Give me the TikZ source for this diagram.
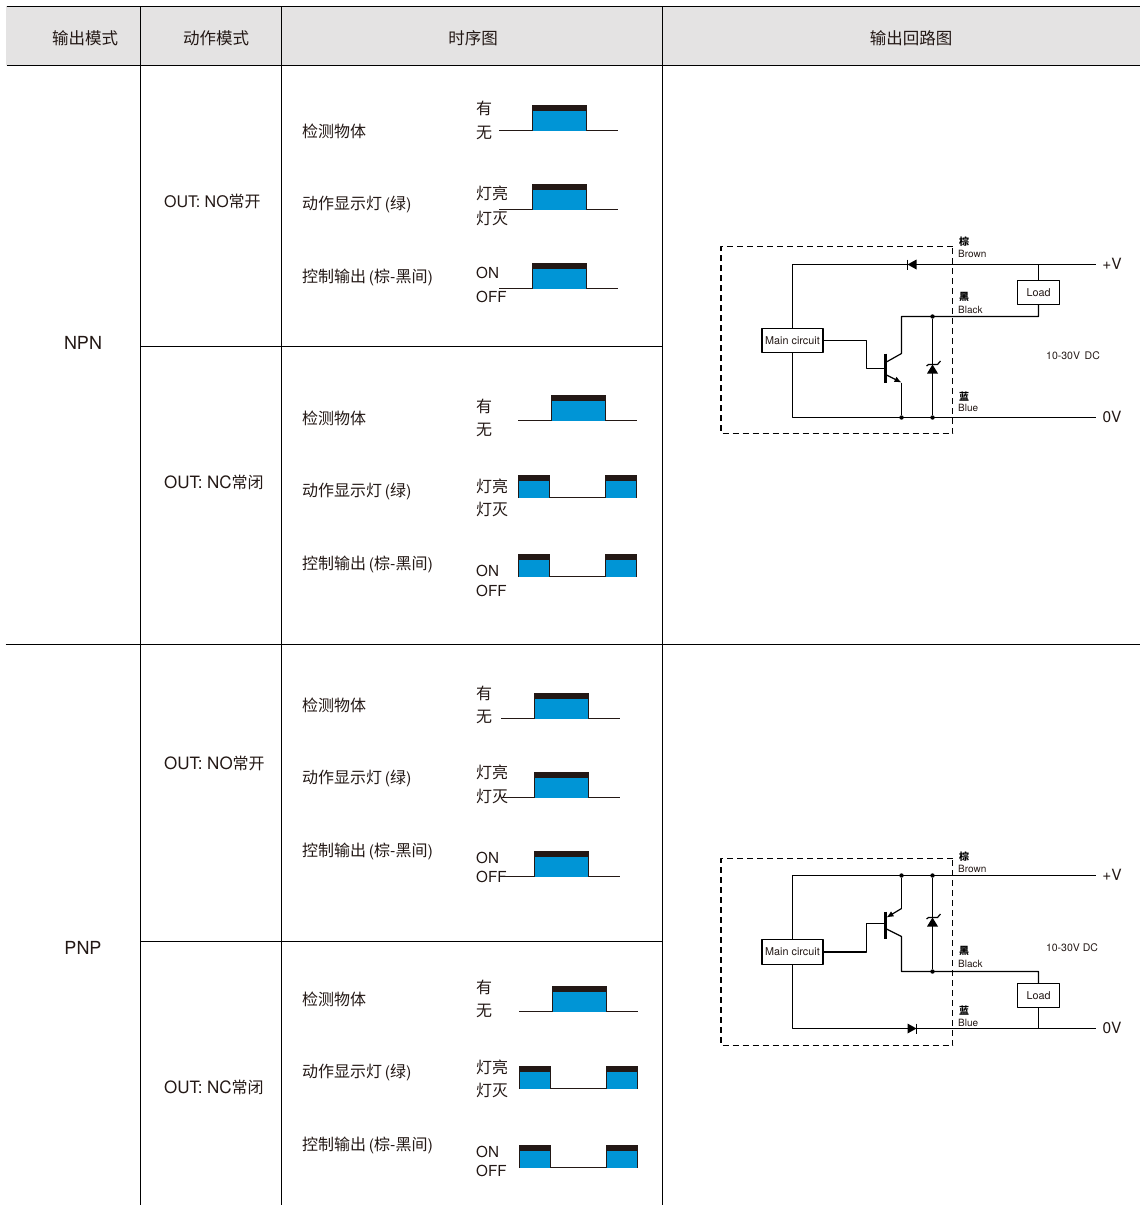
\documentclass[tikz,border=0pt]{standalone}
\usepackage{fontspec}
\setmainfont{TeX Gyre Heros}
\newfontfamily\cjk{Noto Sans CJK SC}
\usetikzlibrary{arrows.meta}
\definecolor{headgray}{HTML}{E4E3E3}
\definecolor{pulseblue}{HTML}{0095D6}
\definecolor{inkblack}{HTML}{231815}
\newcommand{\zh}[1]{{\cjk #1}}
\newcommand{\wide}[1]{{\fontsize{17}{18}\selectfont #1}}
% one pulse: left, right, base, top
\newcommand{\pulsebox}[4]{
	\fill[pulseblue] (#1,#4) rectangle (#2,#3);
	\fill[inkblack] (#1,#4) rectangle (#2,#4+6);
	\draw[pulseedge] (#1,#3)--(#1,#4)--(#2,#4)--(#2,#3);
}
\newcommand{\timingon}[3]{
	\draw[baseline] (#1,#2)--(#1+119,#2);
	\pulsebox{#1+33}{#1+87.5}{#2}{#3}
}
\newcommand{\timingoff}[3]{
	\pulsebox{#1}{#1+31.5}{#2}{#3}
	\pulsebox{#1+87}{#1+118.5}{#2}{#3}
	\draw[baseline] (#1+31.5,#2)--(#1+87,#2);
}
\tikzset{
	tablerule/.style={line width=1.2pt,black},
	baseline/.style={line width=1.1pt,inkblack},
	pulseedge/.style={line width=.5pt,inkblack},
	wire/.style={line width=1.2pt,black},
	dashbox/.style={line width=1.2pt,black,dash pattern=on 6pt off 4pt},
	cell/.style={inner sep=0pt,yshift=-.5pt,text=inkblack,font=\fontsize{16}{18}\selectfont},
	headcell/.style={cell,font=\fontsize{16.5}{18}\selectfont},
	rowlabel/.style={cell,anchor=west},
	switchlabel/.style={rowlabel,font=\fontsize{15.2}{18}\selectfont},
	modelabel/.style={cell,font=\fontsize{18}{20}\selectfont},
	circuitbox/.style={draw=black,line width=1.2pt,fill=white,inner sep=0pt,text=inkblack,font=\fontsize{10.8}{12}\selectfont},
	wirelabel/.style={inner sep=0pt,anchor=west,text=inkblack,font=\fontsize{10}{10}\selectfont},
	colorlabel/.style={inner sep=0pt,text=black,font=\cjk\bfseries\fontsize{10}{10}\selectfont},
	rail/.style={inner sep=0pt,text=inkblack,font=\fontsize{15.5}{18}\selectfont},
	dot/.style={circle,fill=black,inner sep=0pt,minimum size=4.4pt},
	bar/.style={line width=2.2pt,black},
}
\begin{document}
\begin{tikzpicture}[x=1pt,y=-1pt,line join=round]
	\useasboundingbox (0,0) rectangle (1142,1205);
	\fill[headgray] (6,6) rectangle (1139.5,65);
	%rules
	\begin{scope}[shift={(.5,.5)}]
	\draw[tablerule] (6,6)--(1139,6) (6,65)--(1139,65) (5,644)--(1139,644);
	\draw[tablerule] (140,346)--(662,346) (140,941)--(662,941);
	\foreach \x in {140,281,662}
		\draw[tablerule] (\x,6)--(\x,1205);
	\end{scope}
	%head
	\node[headcell] (headoutput) at (85,38) {\zh{输出模式}};
	\node[headcell] (headaction) at (216,38) {\zh{动作模式}};
	\node[headcell] (headtiming) at (473,38) {\zh{时序图}};
	\node[headcell] (headcircuit) at (911,38) {\zh{输出回路图}};
	\node[modelabel] (npn) at (83,342) {NPN};
	\node[modelabel] (pnp) at (83,947) {PNP};
	\node[rowlabel] (modeA) at (164,201) {OUT: NO\zh{常开}};
	\node[rowlabel] (modeB) at (164,482) {\wide{OUT: NC}\zh{常闭}};
	\node[rowlabel] (modeC) at (164,763) {\wide{OUT: NO}\zh{常开}};
	\node[rowlabel] (modeD) at (164,1087) {\wide{OUT: NC}\zh{常闭}};
	%left column of timing
	\foreach \a/\b/\c in {131/204/277,418/491/564,705/778/851,999/1072/1145}{
		\node[rowlabel] (obj\a) at (302,\a) {\zh{检测物体}};
		\node[rowlabel] (lamp\a) at (302,\b) {\zh{动作显示灯}\,(\zh{绿})};
		\node[rowlabel] (ctrl\a) at (302,\c) {\zh{控制输出}\,(\zh{棕}-\zh{黑间})};
	}
	%state names
	\foreach \a/\b in {108/132,406/429,693/716,987/1010}{
		\node[rowlabel] (has\a) at (476,\a) {\zh{有}};
		\node[rowlabel] (none\a) at (476,\b) {\zh{无}};
	}
	\foreach \a/\b in {193/218,486/509,772/796,1067/1090}{
		\node[rowlabel] (lit\a) at (476,\a) {\zh{灯亮}};
		\node[rowlabel] (dark\a) at (476,\b) {\zh{灯灭}};
	}
	\foreach \a/\b in {272/296,570/590,857/876,1151/1170}{
		\node[switchlabel] (on\a) at (476,\a) {ON};
		\node[switchlabel] (off\a) at (476,\b) {OFF};
	}
	%pulses
	\timingon{499}{130.5}{105}
	\timingon{499}{209.5}{184}
	\timingon{499}{288.5}{263}
	\timingon{518}{420.5}{395}
	\timingoff{518}{497.5}{475}
	\timingoff{518}{576.5}{554}
	\timingon{501}{718.5}{693}
	\timingon{501}{797.5}{772}
	\timingon{501}{876.5}{851}
	\timingon{519}{1011.5}{986}
	\timingoff{519}{1088.5}{1066}
	\timingoff{519}{1167.5}{1145}
	\begin{scope}[shift={(.5,.5)}]
	%NPN circuit
	\draw[dashbox] (952,246)--(720.5,246)--(720.5,433)--(952,433)--cycle;
	\node[circuitbox,minimum width=61pt,minimum height=24pt] (mainA) at (792,340) {Main circuit};
	\node[circuitbox,minimum width=42pt,minimum height=24pt] (loadA) at (1038,292) {Load};
	\coordinate (vA) at (1095,264);
	\coordinate (gA) at (1095,417);
	\coordinate (vtapA) at (1038,264);
	\coordinate (collA) at (901,353);
	\coordinate (emitA) at (901,382);
	\node[dot] (zenerTopA) at (932,316) {};
	\node[dot] (zenerBotA) at (932,417) {};
	\node[dot] (emitBotA) at (901,417) {};
	\draw[wire] (vA)--(mainA.north |- vA)--(mainA.north);
	\draw[wire] (mainA.south)--(mainA.south |- gA)--(gA);
	\draw[wire] (vtapA)--(loadA.north);
	\draw[wire] (loadA.south)--(1038,316)--(901,316)--(collA)--(885,362);
	\draw[wire] (mainA.east)--(866,340)--(866,368)--(885,368);
	\draw[wire,-{Latex[length=7pt,width=6pt]}] (885,374)--(emitA);
	\draw[wire] (emitA)--(emitBotA);
	\draw[bar] (885,353)--(885,382);
	\draw[wire] (zenerTopA)--(zenerBotA);
	\fill[black] (932,364)--(937.5,373)--(926.5,373)--cycle;
	\draw[wire] (926,365.5)--(928,364)--(937,364)--(940,360.5);
	\fill[black] (907,264)--(916,259)--(916,269)--cycle;
	\draw[wire] (907,259)--(907,269);
	\node[rail] (plusA) at (1111.5,263.5) {+V};
	\node[rail] (zeroA) at (1111.5,416.5) {0V};
	\node[inner sep=0pt,text=inkblack,font=\fontsize{10.5}{12}\selectfont] (voltA) at (1072.5,355.5) {10-30V\, DC};
	\node[colorlabel] (cbrownA) at (963.5,241.5) {棕};
	\node[wirelabel] (brownA) at (957.5,253.5) {Brown};
	\node[colorlabel] (cblackA) at (963.5,296.5) {黑};
	\node[wirelabel] (blackA) at (957.5,309.5) {Black};
	\node[colorlabel] (cblueA) at (963.5,396.5) {蓝};
	\node[wirelabel] (blueA) at (957.5,407.5) {Blue};
	%PNP circuit
	\draw[dashbox] (952,858)--(720.5,858)--(720.5,1045)--(952,1045)--cycle;
	\node[circuitbox,minimum width=61pt,minimum height=25pt] (mainB) at (792,951.5) {Main circuit};
	\node[circuitbox,minimum width=42pt,minimum height=24pt] (loadB) at (1038,995) {Load};
	\coordinate (vB) at (1095,875);
	\coordinate (gB) at (1095,1028);
	\coordinate (gtapB) at (1038,1028);
	\coordinate (emitB) at (901,908);
	\coordinate (collB) at (901,936);
	\node[dot] (emitTopB) at (901,875) {};
	\node[dot] (zenerTopB) at (932,875) {};
	\node[dot] (zenerBotB) at (932,971) {};
	\draw[wire] (vB)--(mainB.north |- vB)--(mainB.north);
	\draw[wire] (mainB.south)--(mainB.south |- gB)--(gB);
	\draw[wire] (gtapB)--(loadB.south);
	\draw[wire] (loadB.north)--(1038,971)--(901,971)--(collB)--(885,928);
	\draw[wire] (mainB.east)--(866,951.5)--(866,923)--(885,923);
	\draw[wire] (emitTopB)--(emitB);
	\draw[wire,-{Latex[length=7pt,width=6pt]}] (emitB)--(886,917);
	\draw[bar] (885,911)--(885,938);
	\draw[wire] (zenerTopB)--(zenerBotB);
	\fill[black] (932,917)--(937.5,926)--(926.5,926)--cycle;
	\draw[wire] (926,918.5)--(928,917)--(937,917)--(940,913.5);
	\fill[black] (916,1028)--(907,1023)--(907,1033)--cycle;
	\draw[wire] (916,1023)--(916,1033);
	\node[rail] (plusB) at (1111.5,874.5) {+V};
	\node[rail] (zeroB) at (1111.5,1027.5) {0V};
	\node[inner sep=0pt,text=inkblack,font=\fontsize{10.5}{12}\selectfont] (voltB) at (1071.5,947.5) {10-30V DC};
	\node[colorlabel] (cbrownB) at (963.5,856.5) {棕};
	\node[wirelabel] (brownB) at (957.5,868.5) {Brown};
	\node[colorlabel] (cblackB) at (963.5,950.5) {黑};
	\node[wirelabel] (blackB) at (957.5,963.5) {Black};
	\node[colorlabel] (cblueB) at (963.5,1010.5) {蓝};
	\node[wirelabel] (blueB) at (957.5,1022.5) {Blue};
	\end{scope}
\end{tikzpicture}
\end{document}
